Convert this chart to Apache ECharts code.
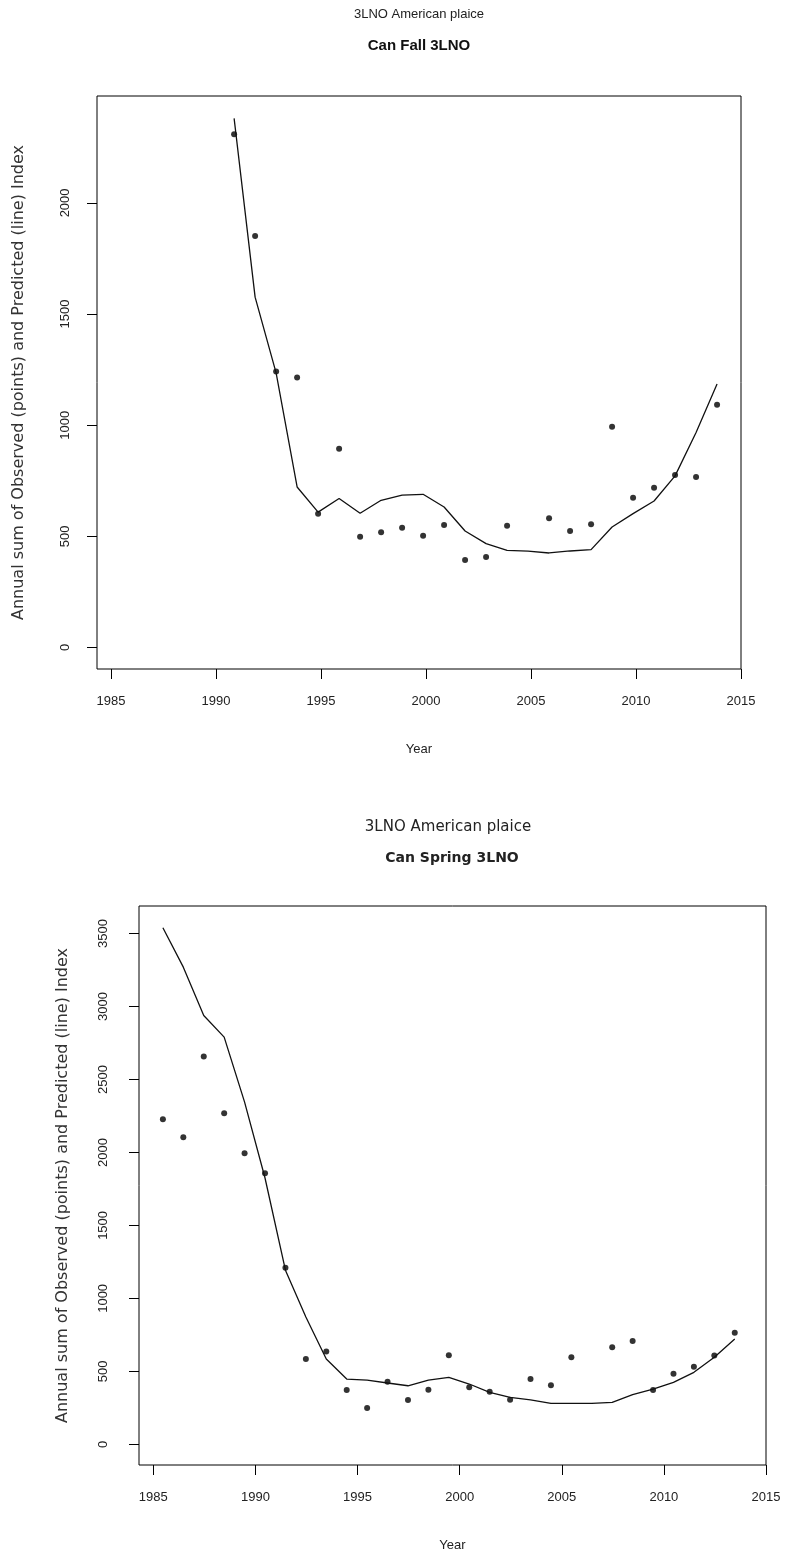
<!DOCTYPE html>
<html>
<head>
<meta charset="utf-8">
<script src="https://cdn.jsdelivr.net/npm/echarts@6/dist/echarts.min.js"></script>
<style>
  html, body { margin: 0; padding: 0; background: #fff; }
  #chart { width: 791px; height: 1556px; }
</style>
</head>
<body>
<div id="chart"></div>
<script>
// Survey years and seasonal offset within the year (fraction of year)
const fallYears = [1990, 1991, 1992, 1993, 1994, 1995, 1996, 1997, 1998, 1999, 2000, 2001,
                   2002, 2003, 2004, 2005, 2006, 2007, 2008, 2009, 2010, 2011, 2012, 2013];
const fallOffset = 0.86;
const fallObserved = [2309, 1851, 1241, 1214, 602, 894, 498, 518, 539, 502, 551, 393,
                      407, 547, null, 581, 524, 554, 993, 674, 719, 776, 767, 1092];
const fallPredicted = [2380, 1576, 1235, 722, 609, 670, 604, 662, 685, 689, 632, 524,
                       467, 437, 433, 425, 434, 440, 542, 602, 659, 772, 967, 1185];

const springYears = [1985, 1986, 1987, 1988, 1989, 1990, 1991, 1992, 1993, 1994, 1995, 1996,
                     1997, 1998, 1999, 2000, 2001, 2002, 2003, 2004, 2005, 2006, 2007, 2008,
                     2009, 2010, 2011, 2012, 2013];
const springOffset = 0.47;
const springObserved = [2228, 2104, 2658, 2269, 1995, 1857, 1209, 585, 635, 372, 248, 429,
                        303, 374, 610, 390, 360, 305, 447, 404, 596, null, 665, 707,
                        372, 484, 532, 608, 764];
const springPredicted = [3540, 3270, 2939, 2790, 2345, 1825, 1193, 872, 585, 447, 440, 420,
                         401, 440, 459, 413, 356, 321, 305, 280, 280, 280, 287, 340,
                         378, 424, 493, 596, 722];

const yearTicks = [1985, 1990, 1995, 2000, 2005, 2010, 2015];
const fallIndexTicks = [0, 500, 1000, 1500, 2000];
const springIndexTicks = [0, 500, 1000, 1500, 2000, 2500, 3000, 3500];

const stockName = '3LNO American plaice';
const yName = 'Annual sum of Observed (points) and Predicted (line) Index';

function pairs(years, offset, values) {
  const out = [];
  years.forEach((y, i) => {
    if (values[i] !== null) out.push([y + offset, values[i]]);
  });
  return out;
}

const FONT = '"Liberation Sans", Arial, sans-serif';
const WIDE = '"DejaVu Sans", sans-serif';
const INK = '#222';

function xAxisFor(gridIndex, min) {
  return {
    type: 'value', gridIndex, min, max: 2015,
    name: 'Year', nameLocation: 'middle', nameGap: 74,
    nameTextStyle: { fontFamily: FONT, fontSize: 13, color: INK },
    axisLine: { show: false, onZero: false },
    splitLine: { show: false },
    axisTick: { show: true, inside: false, length: 10, customValues: yearTicks, lineStyle: { color: '#000', width: 1 } },
    axisLabel: { customValues: yearTicks, margin: 26, fontFamily: FONT, fontSize: 13, color: INK,
                 formatter: v => String(v) }
  };
}

function yAxisFor(gridIndex, min, max, ticks, nameGap, labelMargin) {
  return {
    type: 'value', gridIndex, min, max,
    name: yName, nameLocation: 'middle', nameGap, nameRotate: 90,
    nameTextStyle: { fontFamily: WIDE, fontSize: 16, color: '#333' },
    axisLine: { show: false, onZero: false },
    splitLine: { show: false },
    axisTick: { show: true, inside: false, length: 10, customValues: ticks, lineStyle: { color: '#000', width: 1 } },
    axisLabel: { customValues: ticks, rotate: 90, margin: labelMargin, fontFamily: FONT, fontSize: 13, color: INK,
                 formatter: v => String(v) }
  };
}

const chart = echarts.init(document.getElementById('chart'), null, { renderer: 'canvas' });

chart.setOption({
  animation: false,
  backgroundColor: '#fff',
  grid: [
    { left: 97, top: 96, width: 644, height: 573, show: true, borderColor: '#000', borderWidth: 1, backgroundColor: 'transparent' },
    { left: 139, top: 906, width: 627, height: 559, show: true, borderColor: '#000', borderWidth: 1, backgroundColor: 'transparent' }
  ],
  xAxis: [xAxisFor(0, 1984.33), xAxisFor(1, 1984.3)],
  yAxis: [
    yAxisFor(0, -97, 2481, fallIndexTicks, 70, 25),
    yAxisFor(1, -142, 3689, springIndexTicks, 68, 29)
  ],
  graphic: [
    { type: 'text', x: 419, y: 14, style: { text: stockName, font: '13px ' + FONT, fill: INK, align: 'center', verticalAlign: 'middle' } },
    { type: 'text', x: 419, y: 46, style: { text: 'Can Fall 3LNO', font: 'bold 15px ' + FONT, fill: '#111', align: 'center', verticalAlign: 'middle' } },
    { type: 'text', x: 448, y: 827, style: { text: stockName, font: '15px ' + WIDE, fill: INK, align: 'center', verticalAlign: 'middle' } },
    { type: 'text', x: 452, y: 858, style: { text: 'Can Spring 3LNO', font: 'bold 14px ' + WIDE, fill: '#222', align: 'center', verticalAlign: 'middle' } }
  ],
  series: [
    { type: 'line', xAxisIndex: 0, yAxisIndex: 0, data: pairs(fallYears, fallOffset, fallPredicted),
      showSymbol: false, lineStyle: { color: '#111', width: 1.3 } },
    { type: 'scatter', xAxisIndex: 0, yAxisIndex: 0, data: pairs(fallYears, fallOffset, fallObserved),
      symbol: 'circle', symbolSize: 6, itemStyle: { color: '#000' } },
    { type: 'line', xAxisIndex: 1, yAxisIndex: 1, data: pairs(springYears, springOffset, springPredicted),
      showSymbol: false, lineStyle: { color: '#111', width: 1.3 } },
    { type: 'scatter', xAxisIndex: 1, yAxisIndex: 1, data: pairs(springYears, springOffset, springObserved),
      symbol: 'circle', symbolSize: 6, itemStyle: { color: '#000' } }
  ]
});
</script>
</body>
</html>
